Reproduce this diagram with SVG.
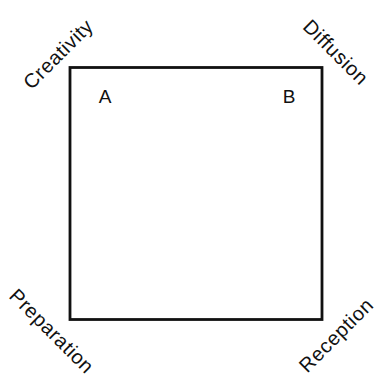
<svg xmlns="http://www.w3.org/2000/svg" width="378" height="380" viewBox="0 0 378 380">
<style>
.lbl{font-family:"Liberation Sans",Arial,sans-serif;font-size:19px;fill:#111;text-anchor:middle}
.diag{font-size:20px;letter-spacing:0.6px}
.frame{fill:none;stroke:#111;stroke-width:2.8}
</style>
<rect width="378" height="380" fill="#fff"/>
<g id="connectors">
<rect class="frame" x="70" y="67.5" width="252" height="252"/>
</g>
<g id="node-A"><text class="lbl" x="105" y="103">A</text></g>
<g id="node-B"><text class="lbl" x="289" y="103">B</text></g>
<g id="node-creativity"><text class="lbl diag" transform="translate(63,59) rotate(-45)">Creativity</text></g>
<g id="node-diffusion"><text class="lbl diag" transform="translate(331,57) rotate(45)">Diffusion</text></g>
<g id="node-preparation"><text class="lbl diag" transform="translate(47,336) rotate(45)">Preparation</text></g>
<g id="node-reception"><text class="lbl diag" transform="translate(341,340) rotate(-45)">Reception</text></g>
</svg>
